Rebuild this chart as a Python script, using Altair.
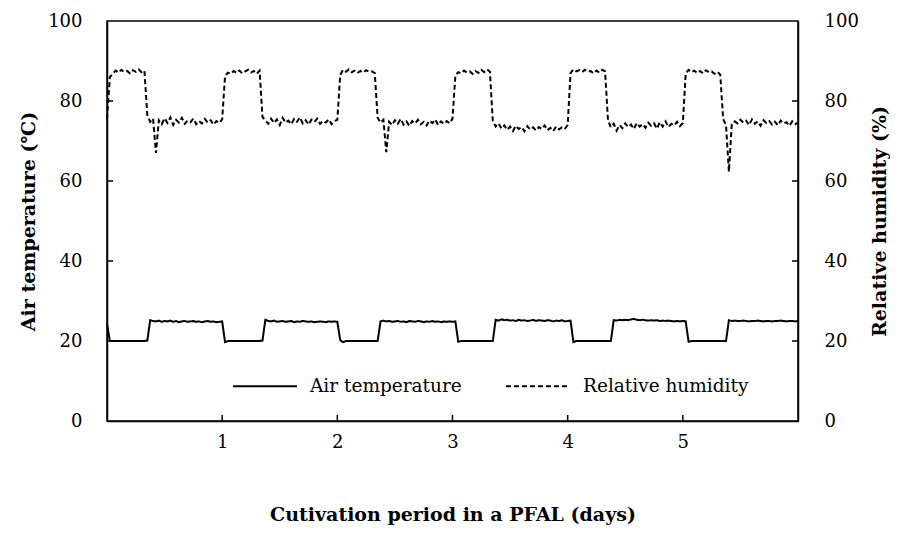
import altair as alt
import pandas as pd

# ---------------- data ----------------
x_ticks = [1, 2, 3, 4, 5]
y_ticks = [0, 20, 40, 60, 80, 100]
inner_y_ticks = [20, 40, 60, 80]
series_names = ["Air temperature", "Relative humidity"]

sample_step_days = 0.025  # regular logging interval of the sensor record
day = [round(i * sample_step_days, 3) for i in range(241)]

air_temp = [
    24.3, 20.0, 20.0, 20.0, 20.0, 20.0, 20.0, 20.0, 20.0, 20.0,
    20.0, 20.0, 20.0, 20.0, 20.1, 25.2, 25.0, 24.9, 25.1, 24.8,
    25.0, 24.9, 25.1, 24.8, 25.0, 24.7, 24.9, 25.0, 24.8, 24.9,
    25.0, 24.8, 24.9, 24.7, 24.9, 25.0, 24.8, 24.9, 24.7, 24.8,
    24.9, 19.7, 20.0, 20.0, 20.0, 20.0, 20.0, 20.0, 20.0, 20.0,
    20.0, 20.0, 20.0, 20.0, 20.1, 25.3, 25.0, 24.9, 25.1, 24.8,
    24.9, 25.0, 24.8, 24.9, 25.0, 24.7, 24.9, 24.8, 25.0, 24.9,
    24.8, 24.9, 24.7, 24.8, 24.9, 24.8, 24.7, 24.9, 24.8, 24.9,
    24.8, 20.2, 19.7, 20.0, 20.0, 20.0, 20.0, 20.0, 20.0, 20.0,
    20.0, 20.0, 20.0, 20.0, 20.0, 24.9, 25.1, 24.9, 25.0, 24.8,
    24.9, 25.0, 24.8, 24.9, 24.7, 25.0, 24.9, 24.8, 25.0, 24.9,
    24.7, 24.9, 24.8, 25.0, 24.8, 24.9, 24.7, 24.9, 24.8, 24.9,
    24.8, 24.9, 19.8, 20.0, 20.0, 20.0, 20.0, 20.0, 20.0, 20.0,
    20.0, 20.0, 20.0, 20.0, 20.0, 25.3, 25.1, 25.4, 25.2, 25.3,
    25.1, 25.2, 25.0, 25.3, 25.1, 25.2, 25.0, 25.1, 25.3, 25.0,
    25.2, 25.1, 25.0, 25.2, 25.1, 24.9, 25.1, 25.0, 25.2, 24.9,
    25.0, 25.1, 19.7, 20.0, 20.0, 20.0, 20.0, 20.0, 20.0, 20.0,
    20.0, 20.0, 20.0, 20.0, 20.0, 20.0, 25.2, 25.1, 25.3, 25.2,
    25.3, 25.2, 25.4, 25.5, 25.3, 25.2, 25.3, 25.2, 25.1, 25.2,
    25.1, 25.2, 25.0, 25.1, 25.0, 25.1, 25.0, 24.9, 25.0, 24.9,
    25.0, 24.9, 19.8, 20.0, 20.0, 20.0, 20.0, 20.0, 20.0, 20.0,
    20.0, 20.0, 20.0, 20.0, 20.0, 20.0, 25.2, 25.0, 25.1, 25.0,
    25.0, 25.1, 25.0, 24.9, 25.0, 25.0, 25.1, 25.0, 24.9, 25.0,
    25.0, 24.9, 25.0, 25.0, 25.1, 25.0, 24.9, 25.0, 25.0, 24.9, 25.0,
]

rel_hum = [
    75.5, 86.0, 86.8, 87.6, 87.1, 87.8, 87.2, 87.5, 86.9, 87.7,
    87.3, 87.9, 87.2, 87.6, 76.5, 74.8, 75.6, 67.0, 75.2, 74.2,
    75.7, 74.5, 75.9, 74.0, 75.3, 74.6, 75.8, 74.3, 75.1, 74.7,
    75.6, 74.2, 75.0, 74.4, 75.5, 74.6, 75.2, 74.1, 75.0, 74.5,
    75.4, 86.2, 87.1, 86.8, 87.5, 87.0, 87.6, 86.9, 87.4, 87.8,
    87.1, 87.5, 86.8, 87.6, 76.0, 75.2, 74.3, 75.6, 74.5, 75.4,
    74.0, 75.8, 74.6, 75.1, 74.2, 75.5, 74.8, 75.9, 74.4, 75.2,
    74.1, 75.3, 74.7, 75.6, 74.3, 75.0, 74.6, 75.4, 74.2, 75.0,
    75.3, 86.5, 87.8, 87.3, 87.9, 87.2, 87.6, 87.0, 87.5, 87.1,
    87.7, 87.3, 87.4, 87.0, 75.8, 74.6, 75.3, 67.2, 74.8, 74.0,
    75.2, 74.3, 75.5, 74.1, 74.9, 73.8, 75.0, 74.4, 75.3, 74.2,
    74.8, 73.9, 75.1, 74.5, 75.4, 74.0, 74.9, 74.3, 75.0, 74.4,
    75.6, 86.4, 87.2, 86.9, 87.6, 87.1, 87.4, 86.8, 87.5, 87.0,
    87.8, 87.2, 87.9, 87.3, 75.0, 73.6, 74.4, 73.1, 73.9, 72.8,
    73.6, 72.5, 73.8, 73.0, 73.5, 72.4, 73.7, 72.9, 73.4, 72.6,
    73.5, 73.0, 73.9, 72.7, 73.3, 72.5, 73.6, 72.9, 73.4, 73.0,
    74.0, 87.0, 87.9, 87.4, 87.7, 87.2, 87.8, 87.3, 87.5, 86.9,
    87.6, 87.1, 87.8, 87.4, 75.2, 73.4, 74.3, 72.6, 74.0, 73.2,
    74.4, 73.5, 74.1, 73.0, 74.5, 73.6, 74.2, 73.3, 74.6, 73.8,
    74.4, 73.1, 74.7, 73.6, 74.9, 73.5, 74.3, 73.9, 74.8, 73.7,
    74.5, 86.9, 87.8, 87.2, 87.6, 87.0, 87.5, 86.9, 87.7, 87.2,
    87.4, 86.8, 87.3, 86.6, 75.5, 74.0, 62.3, 74.2, 74.9, 74.4,
    75.3, 74.6, 75.1, 74.0, 75.4, 74.3, 74.9, 73.8, 75.2, 74.5,
    75.0, 74.1, 74.8, 73.9, 75.1, 74.4, 74.7, 73.8, 74.9, 74.2, 74.6,
]

temp_df = pd.DataFrame({"day": day, "value": air_temp, "series": series_names[0]})
rh_df = pd.DataFrame({"day": day, "value": rel_hum, "series": series_names[1]})
xtick_df = pd.DataFrame({"day": x_ticks})
ytick_df = pd.DataFrame({"value": inner_y_ticks})

# ---------------- styling ----------------
FONT = "DejaVu Serif"
W, H = 691, 400
TICK_LEN = 6

x_enc = alt.X(
    "day:Q",
    scale=alt.Scale(domain=[0, 6], nice=False, zero=False),
    axis=alt.Axis(
        values=x_ticks, title="Cutivation period in a PFAL (days)",
        tickSize=0, labelPadding=12, titlePadding=54, grid=False,
    ),
)

y_left = alt.Y(
    "value:Q",
    scale=alt.Scale(domain=[0, 100], nice=False),
    axis=alt.Axis(
        orient="left", values=y_ticks, title="Air temperature (℃)",
        tickSize=0, labelPadding=25, titlePadding=9, grid=False,
    ),
)

y_right = alt.Y(
    "value:Q",
    scale=alt.Scale(domain=[0, 100], nice=False),
    axis=alt.Axis(
        orient="right", values=y_ticks, title="Relative humidity (%)",
        tickSize=0, labelPadding=26, titlePadding=31, titleAngle=270, grid=False,
    ),
)

dash_enc = alt.StrokeDash(
    "series:N",
    scale=alt.Scale(domain=series_names, range=[[1, 0], [5, 3]]),
    legend=alt.Legend(
        title=None, orient="none", legendX=125, legendY=332,
        direction="horizontal", symbolType="stroke", symbolSize=4096,
        symbolStrokeWidth=2, symbolStrokeColor="black",
        labelFont=FONT, labelFontSize=18.5, labelColor="black", labelLimit=400,
        labelOffset=12, columnPadding=40, padding=0,
    ),
)

temp_line = alt.Chart(temp_df).mark_line(color="black", strokeWidth=2).encode(
    x=x_enc, y=y_left, strokeDash=dash_enc
)
rh_line = alt.Chart(rh_df).mark_line(color="black", strokeWidth=2).encode(
    x=x_enc, y=y_right, strokeDash=dash_enc
)

x_tick_marks = alt.Chart(xtick_df).mark_rule(color="black", strokeWidth=1.5).encode(
    x=x_enc, y=alt.value(H), y2=alt.value(H - TICK_LEN)
)
left_tick_marks = alt.Chart(ytick_df).mark_rule(color="black", strokeWidth=1.5).encode(
    y=y_left, x=alt.value(0), x2=alt.value(TICK_LEN)
)
right_tick_marks = alt.Chart(ytick_df).mark_rule(color="black", strokeWidth=1.5).encode(
    y=y_right, x=alt.value(W), x2=alt.value(W - TICK_LEN)
)

left_group = alt.layer(temp_line, left_tick_marks, x_tick_marks)
right_group = alt.layer(rh_line, right_tick_marks)

chart = (
    alt.layer(left_group, right_group)
    .resolve_scale(y="independent")
    .properties(
        width=W, height=H,
        autosize=alt.AutoSizeParams(type="none"),
        padding={"left": 99, "top": 13, "right": 92, "bottom": 107},
    )
    .configure_view(stroke="black", strokeWidth=1.5)
    .configure_axis(
        domainColor="black", domainWidth=1.5,
        labelFont=FONT, titleFont=FONT, labelColor="black", titleColor="black",
        labelFontSize=18, titleFontSize=19, titleFontWeight="bold",
    )
)

chart.save("out.html", embed_options={"renderer": "svg", "actions": False})
